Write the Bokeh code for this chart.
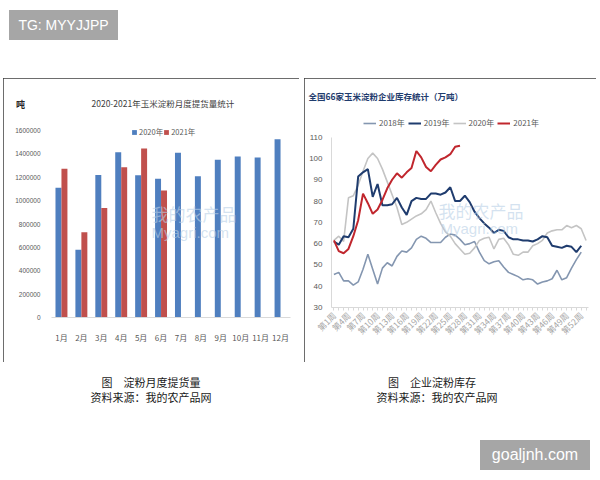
import math
from bokeh.plotting import figure
from bokeh.layouts import column, row
from bokeh.models import (Div, Spacer, Label, Legend, LegendItem, FixedTicker, FactorRange,
                          Range1d, ColumnDataSource, NumeralTickFormatter, Title)
from bokeh.transform import dodge
from bokeh.embed import file_html
from bokeh.resources import INLINE

CJK = "Noto Sans CJK SC"

# ---------------- data: left chart (monthly delivery, tonnes) ----------------
months = ["1月", "2月", "3月", "4月", "5月", "6月", "7月", "8月", "9月", "10月", "11月", "12月"]
delivery_2020 = [1110000, 580000, 1220000, 1415000, 1218000, 1187000,
                 1409000, 1209000, 1349000, 1378000, 1369000, 1526000]
delivery_2021 = [1272000, 730000, 938000, 1286000, 1446000, 1087000]
left_y_ticks = [0, 200000, 400000, 600000, 800000, 1000000, 1200000, 1400000, 1600000]

# ---------------- data: right chart (weekly stock, 10k tonnes) ----------------
weeks = list(range(1, 54))
stock_2018 = [45.5, 46.5, 42.5, 42.5, 40.5, 42, 48, 55, 48, 41,
              48.5, 51, 49.5, 54, 56.5, 56, 58, 62, 63.5, 62.5,
              60.5, 60.5, 60.5, 63, 64.5, 64, 62, 59.5, 60, 61,
              56, 52, 50.5, 51.5, 52, 49, 46.5, 45.5, 44.5, 43,
              43.5, 43, 41, 42, 42.5, 43.5, 47.5, 43, 44, 48.5,
              52.5, 56]
stock_2019 = [61, 59.5, 63.5, 63, 67, 91.5, 93.5, 95, 82, 88,
              78, 78, 78.5, 81.5, 77, 73.5, 80, 81.5, 81, 81,
              83.5, 83.5, 83, 84, 86.5, 80, 80, 82.5, 79.5, 75,
              72, 69.5, 67.5, 65, 66.5, 66, 63, 62, 62, 61.5,
              61.5, 61, 62, 63.5, 63, 59, 58.5, 58, 59, 58.5,
              56, 59]
stock_2020 = [61.5, 63.5, 61, 81.5, 82.5, 87.5, 94, 100, 102.5, 100,
              95, 89, 83, 77, 69, 70, 71.5, 73, 74, 76,
              80, 74.5, 69.5, 65.5, 63.5, 60, 57.5, 55, 55.5, 58,
              61.5, 62.5, 63, 57.5, 62, 62.5, 59.5, 55, 54.5, 56,
              56, 59, 60, 61.5, 65, 66, 66.5, 66.5, 68.5, 67.5,
              68.5, 67, 61.5]
stock_2021 = [61.5, 56.5, 55.5, 57.5, 63.5, 71, 83.5, 79, 74, 76,
              80.5, 86, 90, 93, 91, 93.5, 95.5, 103.5, 100.5, 96,
              94, 97, 99.5, 100.5, 102, 105.5, 106]
right_y_ticks = [30, 40, 50, 60, 70, 80, 90, 100, 110]
week_labels = {w: ("第%d周" % w if (w - 1) % 3 == 0 else "") for w in weeks}

FRAME = {"outline": "2px solid #3c3c3c", "outline-offset": "-2px"}

# ---------------- left figure ----------------
p1 = figure(width=296, height=284, x_range=FactorRange(*months), y_range=Range1d(0, 1737000),
            output_backend="svg", toolbar_location=None,
            min_border_left=40, min_border_right=9, min_border_top=36, min_border_bottom=45)
p1.styles = FRAME
src20 = ColumnDataSource(dict(m=months, v=delivery_2020))
src21 = ColumnDataSource(dict(m=months[:len(delivery_2021)], v=delivery_2021))
b20 = p1.vbar(x=dodge("m", -0.15, range=p1.x_range), top="v", width=0.3, source=src20,
              fill_color="#4F7FBF", line_color=None)
b21 = p1.vbar(x=dodge("m", 0.15, range=p1.x_range), top="v", width=0.3, source=src21,
              fill_color="#C0504D", line_color=None)
p1.xgrid.visible = False
p1.ygrid.visible = False
p1.outline_line_color = None
p1.xaxis.axis_line_color = "#d9d9d9"
p1.xaxis.major_tick_line_color = None
p1.xaxis.minor_tick_line_color = None
p1.xaxis.major_label_text_font = CJK
p1.xaxis.major_label_text_font_size = "8px"
p1.xaxis.major_label_text_color = "#595959"
p1.xaxis.major_label_standoff = 8
p1.yaxis.axis_line_color = None
p1.yaxis.major_tick_line_color = None
p1.yaxis.minor_tick_line_color = None
p1.yaxis.ticker = FixedTicker(ticks=left_y_ticks)
p1.yaxis.formatter = NumeralTickFormatter(format="0")
p1.yaxis.major_label_text_font = "Liberation Sans"
p1.yaxis.major_label_text_font_size = "6.5px"
p1.yaxis.major_label_text_color = "#595959"
p1.yaxis.major_label_standoff = 5

p1.add_layout(Title(text="2020-2021年玉米淀粉月度提货量统计", align="left", offset=40,
                    standoff=12, text_font=CJK, text_font_size="8.5px",
                    text_font_style="normal", text_color="#404040"), "above")
p1.add_layout(Label(x=17, y=213, x_units="screen", y_units="screen", text="吨",
                    text_align="center", text_baseline="middle", text_font=CJK,
                    text_font_size="9px", text_font_style="bold", text_color="#262626"), "left")
p1.add_layout(Label(x=100, y=104, x_units="screen", y_units="screen", text="我的农产品",
                    text_baseline="middle", text_font=CJK, text_font_size="17px",
                    text_color="#b8cfe6", text_alpha=0.6))
p1.add_layout(Label(x=100, y=85, x_units="screen", y_units="screen", text="Myagri.com",
                    text_baseline="middle", text_font="Liberation Sans", text_font_size="15px",
                    text_color="#b8cfe6", text_alpha=0.6))
leg1 = Legend(items=[LegendItem(label="2020年", renderers=[b20]),
                     LegendItem(label="2021年", renderers=[b21])],
              orientation="horizontal", location=(80, 180), padding=0, margin=0, spacing=0,
              glyph_width=6, glyph_height=6, label_height=8, label_width=10, label_standoff=2,
              label_text_font=CJK, label_text_font_size="7.5px", label_text_color="#595959",
              border_line_color=None, background_fill_alpha=0)
p1.add_layout(leg1, "center")

# ---------------- right figure ----------------
p2 = figure(width=292, height=284, x_range=Range1d(0.5, 53.5), y_range=Range1d(30, 123.0),
            output_backend="svg", toolbar_location=None,
            min_border_left=27, min_border_right=8, min_border_top=31, min_border_bottom=55)
p2.styles = FRAME
r18 = p2.line(weeks[:len(stock_2018)], stock_2018, line_color="#8496B0", line_width=1.6)
r20 = p2.line(weeks[:len(stock_2020)], stock_2020, line_color="#C4C4C4", line_width=1.6)
r19 = p2.line(weeks[:len(stock_2019)], stock_2019, line_color="#1F3C6E", line_width=2)
r21 = p2.line(weeks[:len(stock_2021)], stock_2021, line_color="#C0262D", line_width=2)
p2.xgrid.visible = False
p2.ygrid.visible = False
p2.outline_line_color = None
p2.yaxis.ticker = FixedTicker(ticks=right_y_ticks)
p2.yaxis.bounds = (30, 110)
p2.yaxis.axis_line_color = "#d9d9d9"
p2.yaxis.major_tick_line_color = None
p2.yaxis.minor_tick_line_color = None
p2.yaxis.major_label_text_font = "Liberation Sans"
p2.yaxis.major_label_text_font_size = "8px"
p2.yaxis.major_label_text_color = "#595959"
p2.yaxis.major_label_standoff = 3
p2.xaxis.ticker = FixedTicker(ticks=weeks)
p2.xaxis.major_label_overrides = week_labels
p2.xaxis.major_label_orientation = math.pi / 4
p2.xaxis.axis_line_color = "#d9d9d9"
p2.xaxis.major_tick_line_color = "#d9d9d9"
p2.xaxis.major_tick_in = 0
p2.xaxis.major_tick_out = 3
p2.xaxis.minor_tick_line_color = None
p2.xaxis.major_label_text_font = CJK
p2.xaxis.major_label_text_font_size = "8.5px"
p2.xaxis.major_label_text_color = "#a6a6a6"
p2.xaxis.major_label_standoff = 3

p2.add_layout(Title(text="全国66家玉米淀粉企业库存统计（万吨）", align="left", offset=-23,
                    standoff=16, text_font=CJK, text_font_size="8.5px",
                    text_font_style="bold", text_color="#1F3C6E"), "above")
p2.add_layout(Label(x=107, y=97, x_units="screen", y_units="screen", text="我的农产品",
                    text_baseline="middle", text_font=CJK, text_font_size="17px",
                    text_color="#b8cfe6", text_alpha=0.6))
p2.add_layout(Label(x=109, y=79, x_units="screen", y_units="screen", text="Myagri.com",
                    text_baseline="middle", text_font="Liberation Sans", text_font_size="15px",
                    text_color="#b8cfe6", text_alpha=0.6))
leg2 = Legend(items=[LegendItem(label="2018年", renderers=[r18]),
                     LegendItem(label="2019年", renderers=[r19]),
                     LegendItem(label="2020年", renderers=[r20]),
                     LegendItem(label="2021年", renderers=[r21])],
              orientation="horizontal", location=(32, 179), padding=0, margin=0, spacing=3,
              glyph_width=13, glyph_height=8, label_height=8, label_width=10, label_standoff=3,
              label_text_font=CJK, label_text_font_size="8px", label_text_color="#595959",
              border_line_color=None, background_fill_alpha=0)
p2.add_layout(leg2, "center")

# ---------------- page decorations ----------------
BOX = ("background:#a6a6a6;color:#ffffff;font-family:'Liberation Sans';text-align:center;")
top_div = Div(width=600, height=78, margin=0, text=(
    '<div style="padding:10px 0 0 9px;">'
    '<div style="width:109px;height:30px;line-height:30px;font-size:14px;' + BOX + '">TG: MYYJJPP</div>'
    '</div>'))

CAP = ("position:absolute;text-align:center;font-family:'Noto Sans CJK SC';font-size:11px;"
       "line-height:14px;color:#1a1a1a;white-space:nowrap;")
cap_div = Div(width=600, height=50, margin=0, text=(
    '<div style="position:relative;width:600px;height:50px;">'
    '<div style="' + CAP + 'left:71px;top:13px;width:160px;">图　淀粉月度提货量</div>'
    '<div style="' + CAP + 'left:71px;top:28px;width:160px;">资料来源：我的农产品网</div>'
    '<div style="' + CAP + 'left:352px;top:13px;width:160px;">图　企业淀粉库存</div>'
    '<div style="' + CAP + 'left:357px;top:28px;width:160px;">资料来源：我的农产品网</div>'
    '</div>'))

bottom_div = Div(width=600, height=68, margin=0, text=(
    '<div style="padding:28px 0 0 480px;">'
    '<div style="width:110px;height:30px;line-height:30px;font-size:16px;' + BOX + '">goaljnh.com</div>'
    '</div>'))

layout = column(top_div,
                row(Spacer(width=3, height=284), column(p1), Spacer(width=5, height=284), column(p2)),
                cap_div, bottom_div)

open("out.html", "w").write(file_html(layout, INLINE))
